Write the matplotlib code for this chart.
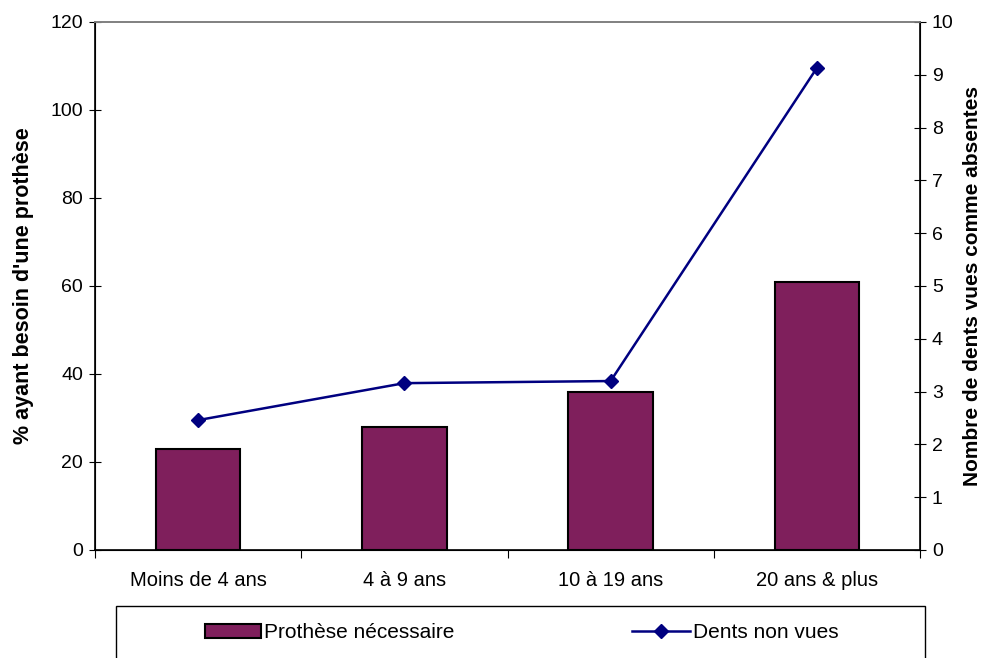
import matplotlib.pyplot as plt
from matplotlib.patches import Rectangle
from matplotlib.lines import Line2D
from matplotlib.patches import Patch

plt.rcParams['font.family'] = ['Liberation Sans', 'DejaVu Sans']

# Données
categories = ['Moins de 4 ans', '4 à 9 ans', '10 à 19 ans', '20 ans & plus']
prothese = [23, 28, 36, 61]
dents_non_vues = [2.46, 3.16, 3.2, 9.13]

couleur_barre = '#7F1F5C'
couleur_ligne = '#000080'

fig = plt.figure(figsize=(9.88, 6.58), dpi=100)
ax = fig.add_axes([95 / 988, 108 / 658, 825 / 988, 528 / 658])
x = range(len(categories))

ax.bar(x, prothese, width=0.41, color=couleur_barre, edgecolor='black', linewidth=1.5, zorder=2)
ax.set_xlim(-0.5, 3.5)
ax.set_ylim(0, 120)
ax.set_yticks(range(0, 121, 20))
ax.set_xticks(list(x))
ax.set_xticklabels(categories, fontsize=14.5)
ax.set_xticks([-0.5, 0.5, 1.5, 2.5, 3.5], minor=True)
ax.tick_params(axis='x', which='major', length=0, pad=15)
ax.tick_params(axis='x', which='minor', direction='out', length=6, width=0.8)
ax.tick_params(axis='y', direction='inout', length=9, width=0.8, labelsize=14, pad=4)
ax.set_ylabel("% ayant besoin d'une prothèse", fontsize=15.5, fontweight='bold', labelpad=12)

for cote in ['left', 'bottom']:
    ax.spines[cote].set_linewidth(1.2)
ax.spines['top'].set_color('#808080')
ax.spines['top'].set_linewidth(1.2)

# Axe secondaire pour le nombre de dents
ax2 = ax.twinx()
ax2.plot(x, dents_non_vues, color=couleur_ligne, linewidth=1.8, marker='D', markersize=7.5, zorder=3)
ax2.set_ylim(0, 10)
ax2.set_yticks(range(0, 11))
ax2.tick_params(axis='y', direction='inout', length=9, width=0.8, labelsize=14, pad=4)
ax2.set_ylabel('Nombre de dents vues comme absentes', fontsize=15, fontweight='bold', labelpad=7)
ax2.spines['right'].set_linewidth(1.2)
ax2.spines['top'].set_color('#808080')
ax2.spines['top'].set_linewidth(1.2)

# Cadre de la légende
cadre = Rectangle((116 / 988, -0.05), 809 / 988, 0.05 + 52 / 658, transform=fig.transFigure,
                  facecolor='white', edgecolor='black', linewidth=1.0)
fig.patches.append(cadre)

h1 = Patch(facecolor=couleur_barre, edgecolor='black', linewidth=1.5)
h2 = Line2D([], [], color=couleur_ligne, linewidth=1.8, marker='D', markersize=7.5)
fig.legend([h1], ['Prothèse nécessaire'], loc='center left', bbox_to_anchor=(205 / 988, 25 / 658),
           frameon=False, fontsize=15, borderpad=0, borderaxespad=0,
           handlelength=2.7, handleheight=0.65, handletextpad=0.12)
fig.legend([h2], ['Dents non vues'], loc='center left', bbox_to_anchor=(632 / 988, 25 / 658),
           frameon=False, fontsize=15, borderpad=0, borderaxespad=0,
           handlelength=2.8, handletextpad=0.12)

fig.savefig('out.png', dpi=100)
